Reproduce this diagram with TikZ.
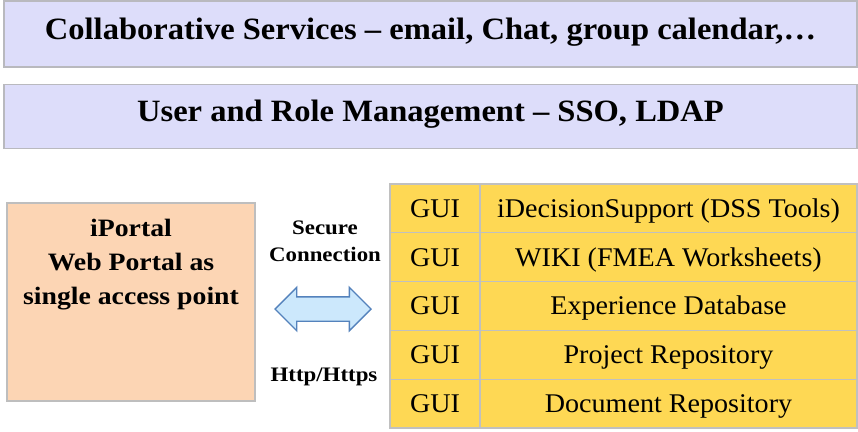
\documentclass[tikz,border=0pt]{standalone}
\usepackage{fontspec}
\setmainfont{Liberation Serif}
\newfontfamily\bandfont[FakeStretch=1.05]{Liberation Serif}
\newfontfamily\widefont[FakeStretch=1.11]{Liberation Serif}
\newfontfamily\cellfont[FakeStretch=1.04]{Liberation Serif}
\usetikzlibrary{positioning,shapes.arrows}

\definecolor{bandfill}{RGB}{221,221,250}
\definecolor{bandline}{RGB}{185,185,190}
\definecolor{portalfill}{RGB}{252,213,180}
\definecolor{portalline}{RGB}{190,190,190}
\definecolor{cellfill}{RGB}{254,216,84}
\definecolor{cellline}{RGB}{192,192,192}
\definecolor{arrowfill}{RGB}{204,232,252}
\definecolor{arrowline}{RGB}{84,130,188}

\begin{document}
\begin{tikzpicture}[x=1pt,y=-1pt,
    band/.style={draw=bandline,fill=bandfill,line width=1.3pt,minimum width=853pt,minimum height=64pt,inner sep=0,font=\bandfontsize\bfseries,text height=20.5pt,text depth=10.5pt},
    portalbox/.style={draw=portalline,fill=portalfill,line width=1.3pt,minimum width=248pt,minimum height=198pt,inner sep=0},
    portaltext/.style={align=center,inner sep=0,font=\portalfontsize\bfseries},
    linktext/.style={align=center,inner sep=0,font=\linkfontsize\bfseries},
    linkarrow/.style={double arrow,draw=arrowline,fill=arrowfill,line width=1.4pt,minimum height=96pt,inner xsep=0,inner ysep=11.5pt,double arrow head extend=9.5pt},
    guicell/.style={draw=cellline,fill=cellfill,line width=1.2pt,minimum width=90pt,minimum height=48.8pt,inner sep=0,outer sep=0,font=\cellfontsize,text height=17.8pt,text depth=0pt},
    svccell/.style={guicell,minimum width=377pt}]
    \providecommand{\bandfontsize}{\bandfont\fontsize{31}{34}\selectfont}
    \providecommand{\portalfontsize}{\widefont\fontsize{25}{34}\selectfont}
    \providecommand{\linkfontsize}{\widefont\fontsize{20.6}{27.5}\selectfont}
    \providecommand{\cellfontsize}{\cellfont\fontsize{27}{30}\selectfont}
    \useasboundingbox (0,0) rectangle (858,431);
    \fill[white] (0,0) rectangle (858,431);
    % service layers
    \node[band,minimum height=66pt] (collab) at (430.5,34) {Collaborative Services – email, Chat, group calendar,…};
    \node[band] (users) at (430.5,116.3) {User and Role Management – SSO, LDAP};
    % portal
    \node[portalbox] (portal) at (131,302) {};
    \node[portaltext,below=16.5pt of portal.north] (portaltxt) {iPortal\\Web Portal as\\single access point};
    % connection
    \node[linkarrow] (link) at (323,309) {};
    \node[linktext,anchor=north] (secure) at (325,220.5) {Secure\\Connection};
    \node[linktext,anchor=base] (http) at (324,381) {Http/Https};
    % tools
    \node[guicell] (gui1) at (435,208.4) {GUI};
    \node[svccell,right=0pt of gui1] (svc1) {iDecisionSupport (DSS Tools)};
    \node[guicell,below=0pt of gui1] (gui2) {GUI};
    \node[svccell,right=0pt of gui2] (svc2) {WIKI (FMEA Worksheets)};
    \node[guicell,below=0pt of gui2] (gui3) {GUI};
    \node[svccell,right=0pt of gui3] (svc3) {Experience Database};
    \node[guicell,below=0pt of gui3] (gui4) {GUI};
    \node[svccell,right=0pt of gui4] (svc4) {Project Repository};
    \node[guicell,below=0pt of gui4] (gui5) {GUI};
    \node[svccell,right=0pt of gui5] (svc5) {Document Repository};
\end{tikzpicture}
\end{document}
